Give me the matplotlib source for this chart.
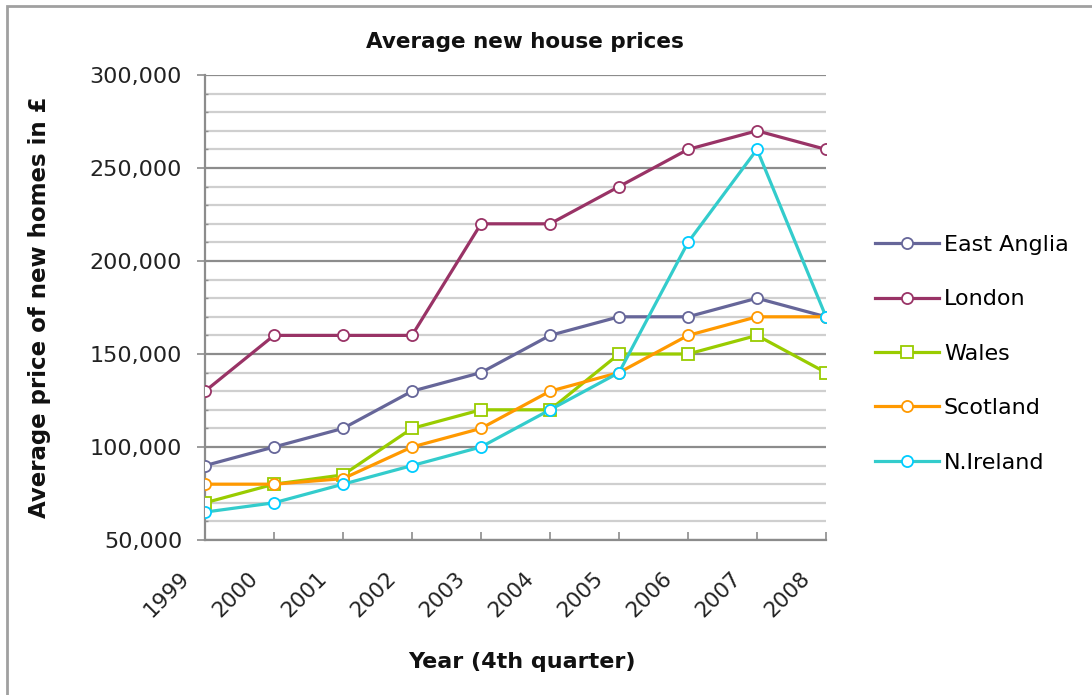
import numpy as np
import matplotlib
matplotlib.use("Agg")
import matplotlib.pyplot as plt
from matplotlib.ticker import MultipleLocator, FuncFormatter
from matplotlib.patches import Rectangle
from matplotlib.transforms import ScaledTranslation

plt.rcParams['font.family'] = ['DejaVu Sans']

# data
years = ['1999', '2000', '2001', '2002', '2003', '2004', '2005', '2006', '2007', '2008']
east_anglia = [90000, 100000, 110000, 130000, 140000, 160000, 170000, 170000, 180000, 170000]
london = [130000, 160000, 160000, 160000, 220000, 220000, 240000, 260000, 270000, 260000]
wales = [70000, 80000, 85000, 110000, 120000, 120000, 150000, 150000, 160000, 140000]
scotland = [80000, 80000, 83000, 100000, 110000, 130000, 140000, 160000, 170000, 170000]
n_ireland = [65000, 70000, 80000, 90000, 100000, 120000, 140000, 210000, 260000, 170000]

series = [
    ('East Anglia', east_anglia, '#666699', '#666699', 'o'),
    ('London', london, '#993366', '#993366', 'o'),
    ('Wales', wales, '#99CC00', '#99CC00', 's'),
    ('Scotland', scotland, '#FF9900', '#FF9900', 'o'),
    ('N.Ireland', n_ireland, '#33CCCC', '#00CCFF', 'o'),
]

fig = plt.figure(figsize=(10.92, 6.95), dpi=100)
ax = fig.add_axes([205/1092, 1-540/695, 621/1092, 465/695])

x = np.arange(len(years))
for name, vals, lc, mc, mk in series:
    ax.plot(x, vals, color=lc, lw=2.3, marker=mk, ms=8 if mk == 'o' else 9,
            mfc='white', mec=mc, mew=1.3, label=name, zorder=3)

ax.set_xlim(0, len(years) - 1)
ax.set_ylim(50000, 300000)
ax.yaxis.set_major_locator(MultipleLocator(50000))
ax.yaxis.set_minor_locator(MultipleLocator(10000))
ax.yaxis.set_major_formatter(FuncFormatter(lambda v, p: f'{int(v):,}'))
ax.grid(which='major', axis='y', color='#8c8c8c', lw=1.6, zorder=1)
ax.grid(which='minor', axis='y', color='#cfcfcf', lw=1.6, zorder=1)

ax.set_xticks(x)
ax.set_xticklabels(years, rotation=45, ha='right', va='top', fontsize=15.5, color='#222222')
ax.tick_params(axis='x', direction='in', length=5.5, color='#8c8c8c', width=1.2, pad=20)
ax.tick_params(axis='y', which='major', direction='out', length=5.5, color='#8c8c8c',
               width=1.2, labelsize=16, labelcolor='#222222', pad=11)
ax.tick_params(axis='y', which='minor', direction='in', length=2.5, color='#8c8c8c', width=1.0)
# shift year labels a bit to the left, like the original
shift = ScaledTranslation(-12/100, 0, fig.dpi_scale_trans)
for lab in ax.get_xticklabels():
    lab.set_transform(lab.get_transform() + shift)

for s in ['top', 'right']:
    ax.spines[s].set_visible(False)
for s in ['left', 'bottom']:
    ax.spines[s].set_color('#8c8c8c')
    ax.spines[s].set_linewidth(1.6)

fig.text(525/1092, 1-42/695, 'Average new house prices', ha='center', va='center',
         fontsize=15.5, fontweight='bold', color='#111111')
fig.text(40/1092, 1-307/695, 'Average price of new homes in £', rotation=90,
         ha='center', va='center', fontsize=16.5, fontweight='bold', color='#111111')
fig.text(522/1092, 1-662/695, 'Year (4th quarter)', ha='center', va='center',
         fontsize=16, fontweight='bold', color='#111111')

fig.legend(loc='upper left', bbox_to_anchor=(866/1092, 1-226/695), frameon=False,
           fontsize=16, handlelength=2.9, handletextpad=0.2, labelspacing=1.55,
           borderaxespad=0)

# outer chart border (left and top edges visible)
fig.patches.append(Rectangle((7/1092, -0.1), 1.2, 1 - 6/695 + 0.1, transform=fig.transFigure,
                             fill=False, edgecolor='#a0a0a0', lw=2, zorder=0))

fig.savefig('out.png', dpi=100)
